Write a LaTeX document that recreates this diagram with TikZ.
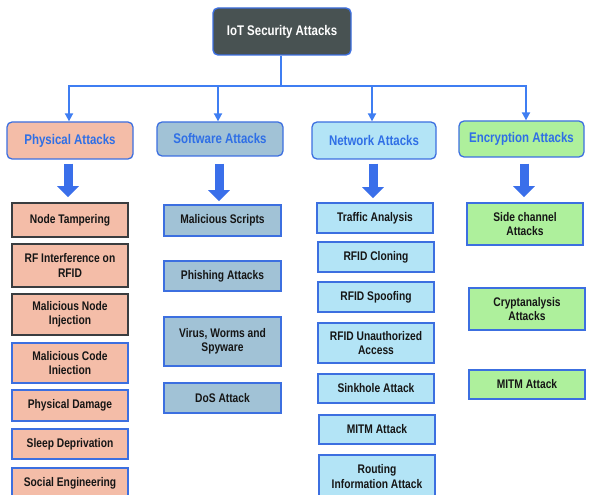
\documentclass[tikz,border=0pt]{standalone}
\usepackage{fontspec}
\newfontfamily\dgfont{Liberation Sans}[FakeStretch=0.82]
\usetikzlibrary{arrows.meta}

\definecolor{rootgray}{HTML}{485252}
\definecolor{edgeblue}{HTML}{3C6FE0}
\definecolor{linkblue}{HTML}{3F7EF2}
\definecolor{fatblue}{HTML}{3A6FEA}
\definecolor{catblue}{HTML}{2F6FE6}
\definecolor{physfill}{HTML}{F4BDA8}
\definecolor{softfill}{HTML}{A1C2D6}
\definecolor{netfill}{HTML}{B3E4F6}
\definecolor{encfill}{HTML}{AEF09C}
\definecolor{darkedge}{HTML}{3A3D40}
\definecolor{leaftext}{HTML}{151515}

\tikzset{
  rootbox/.style={rounded corners=5pt, draw=edgeblue, line width=1.4pt,
    fill=rootgray, text=white, inner sep=0pt,
    minimum width=138pt, minimum height=47pt,
    font=\dgfont\bfseries\fontsize{14}{16}\selectfont},
  catbox/.style={rounded corners=5pt, draw=edgeblue, line width=1.3pt,
    text=catblue, inner sep=0pt, minimum height=36pt,
    font=\dgfont\bfseries\fontsize{14}{16}\selectfont},
  leafbox/.style={draw=edgeblue, line width=1.6pt, text=leaftext,
    inner sep=0pt, align=center, minimum width=116pt,
    font=\dgfont\bfseries\fontsize{12.5}{14.5}\selectfont},
  physleaf/.style={leafbox, fill=physfill},
  softleaf/.style={leafbox, fill=softfill, minimum width=117pt},
  netleaf/.style={leafbox, fill=netfill},
  encleaf/.style={leafbox, fill=encfill},
  bus/.style={draw=linkblue, line width=1.8pt},
  busarrow/.style={bus, -{Triangle[width=8pt,length=8pt]}},
  fatarrow/.style={draw=fatblue, line width=9pt,
    -{Triangle[width=21pt,length=11pt]}},
}

\begin{document}
\begin{tikzpicture}[x=1pt,y=-1pt]
\useasboundingbox (0,0) rectangle (590,495);
\clip (0,0) rectangle (590,495);

% top of the hierarchy
\node[rootbox] (root) at (282,31.5) {IoT Security Attacks};

% the four families of attacks
\node[catbox, fill=physfill, minimum width=126pt, minimum height=37pt] (phys) at (70,140.5) {Physical Attacks};
\node[catbox, fill=softfill, minimum width=126pt, minimum height=34pt] (soft) at (220,139) {\raisebox{1.5pt}{Software Attacks}};
\node[catbox, fill=netfill, minimum width=124pt, minimum height=37pt] (net) at (374,140.5) {Network Attacks};
\node[catbox, fill=encfill, minimum width=125pt, minimum height=36pt] (enc) at (521.5,139) {Encryption Attacks};

% distribution bus from the root
\coordinate (busmid) at (281,86);
\coordinate (b1) at (69,86);
\coordinate (b2) at (218,86);
\coordinate (b3) at (372,86);
\coordinate (b4) at (526,86);
\draw[bus] (root.south -| busmid) -- (busmid);
\draw[bus, line cap=rect] (b1) -- (b4);
\draw[busarrow] (b1) -- (b1 |- phys.north);
\draw[busarrow] (b2) -- (b2 |- soft.north);
\draw[busarrow] (b3) -- (b3 |- net.north);
\draw[busarrow] (b4) -- (b4 |- enc.north);

% physical attacks
\node[physleaf, draw=darkedge, minimum height=34pt] (nt)  at (70,220)   {Node Tampering};
\node[physleaf, draw=darkedge, minimum height=43pt] (rf)  at (70,265.5) {RF Interference on\\RFID};
\node[physleaf, draw=darkedge, minimum height=41pt] (mni) at (70,314.5) {Malicious Node\\Injection};
\node[physleaf, minimum height=40pt] (mci) at (70,363)   {Malicious Code\\Iniection};
\node[physleaf, minimum height=31pt] (pd)  at (70,405.5) {Physical Damage};
\node[physleaf, minimum height=30pt] (sd)  at (70,444)   {Sleep Deprivation};
\node[physleaf, minimum height=30pt] (se)  at (70,483)   {Social Engineering};

% software attacks
\node[softleaf, minimum height=31pt] (ms)  at (222.5,220.5) {Malicious Scripts};
\node[softleaf, minimum height=30pt] (pa)  at (222.5,276)   {Phishing Attacks};
\node[softleaf, minimum height=49pt] (vw)  at (222.5,341.5) {Virus, Worms and\\Spyware};
\node[softleaf, minimum height=30pt] (dos) at (222.5,398)   {DoS Attack};

% network attacks
\node[netleaf, minimum height=30pt] (ta)  at (375,218)   {Traffic Analysis};
\node[netleaf, minimum height=30pt] (rc)  at (376,257)   {RFID Cloning};
\node[netleaf, minimum height=30pt] (rs)  at (376,297)   {RFID Spoofing};
\node[netleaf, minimum height=40pt] (ru)  at (376,343)   {RFID Unauthorized\\Access};
\node[netleaf, minimum height=29pt] (sa)  at (376,388.5) {Sinkhole Attack};
\node[netleaf, minimum height=29pt] (nm)  at (377,429.5) {MITM Attack};
\node[netleaf, minimum height=43pt] (ri)  at (377,476.5) {Routing\\Information Attack};

% encryption attacks
\node[encleaf, minimum height=42pt] (sc) at (525,224)   {Side channel\\Attacks};
\node[encleaf, minimum height=42pt] (ca) at (527,309)   {Cryptanalysis\\Attacks};
\node[encleaf, minimum height=29pt] (em) at (527,384.5) {MITM Attack};

% broad arrows from each family to its list
\coordinate (f1) at (68,0);
\coordinate (f2) at (219,0);
\coordinate (f3) at (373,0);
\coordinate (f4) at (524,0);
\draw[fatarrow, shorten <=4pt, shorten >=5pt] (phys.south -| f1) -- (nt.north -| f1);
\draw[fatarrow, shorten <=7pt, shorten >=3pt] (soft.south -| f2) -- (ms.north -| f2);
\draw[fatarrow, shorten <=4pt, shorten >=4pt] (net.south -| f3) -- (ta.north -| f3);
\draw[fatarrow, shorten <=6pt, shorten >=5pt] (enc.south -| f4) -- (sc.north -| f4);
\end{tikzpicture}
\end{document}
